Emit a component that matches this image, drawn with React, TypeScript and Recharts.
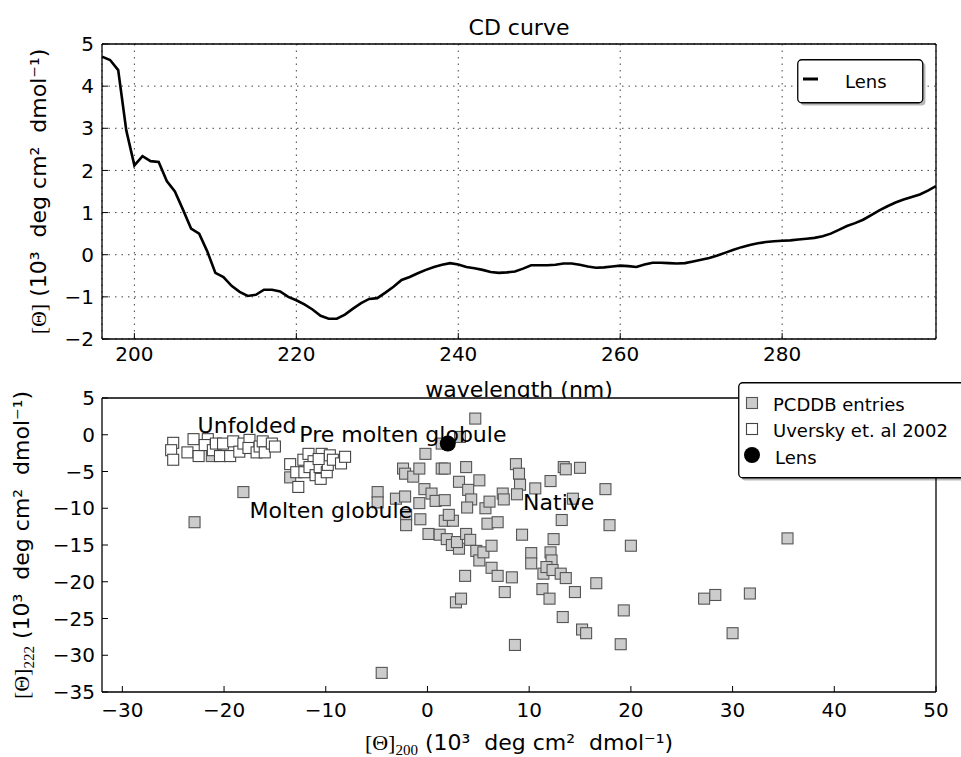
import React from 'react';
import { LineChart, Line, XAxis, YAxis, CartesianGrid, ScatterChart, Scatter, Legend } from 'recharts';

// ---------- CD curve data ----------
const wavelengths = [
  196, 197, 198, 199, 200, 201, 202, 203, 204, 205, 206, 207, 208, 209, 210, 211, 212, 213, 214, 215,
  216, 217, 218, 219, 220, 221, 222, 223, 224, 225, 226, 227, 228, 229, 230, 231, 232, 233, 234, 235,
  236, 237, 238, 239, 240, 241, 242, 243, 244, 245, 246, 247, 248, 249, 250, 251, 252, 253, 254, 255,
  256, 257, 258, 259, 260, 261, 262, 263, 264, 265, 266, 267, 268, 269, 270, 271, 272, 273, 274, 275,
  276, 277, 278, 279, 280, 281, 282, 283, 284, 285, 286, 287, 288, 289, 290, 291, 292, 293, 294, 295,
  296, 297, 298, 299,
];
const cdValues = [
  4.7, 4.62, 4.38, 2.95, 2.12, 2.34, 2.22, 2.2, 1.75, 1.5, 1.07, 0.62, 0.5, 0.08, -0.43, -0.53, -0.74, -0.88, -0.98, -0.95,
  -0.83, -0.83, -0.87, -1.0, -1.08, -1.18, -1.3, -1.45, -1.52, -1.52, -1.42, -1.28, -1.15, -1.05, -1.03, -0.9, -0.76, -0.6, -0.53, -0.44,
  -0.36, -0.29, -0.24, -0.2, -0.23, -0.29, -0.32, -0.36, -0.41, -0.43, -0.42, -0.4, -0.33, -0.25, -0.25, -0.25, -0.24, -0.21, -0.21, -0.24,
  -0.28, -0.31, -0.3, -0.28, -0.26, -0.27, -0.29, -0.23, -0.19, -0.19, -0.2, -0.21, -0.2, -0.16, -0.12, -0.08, -0.02, 0.05, 0.12, 0.18,
  0.23, 0.27, 0.3, 0.32, 0.33, 0.34, 0.36, 0.38, 0.4, 0.44, 0.5, 0.59, 0.68, 0.75, 0.83, 0.94, 1.05, 1.15, 1.24, 1.31,
  1.37, 1.43, 1.52, 1.63,
];
const cdXTicks = [200, 220, 240, 260, 280];
const cdYTicks = [-2, -1, 0, 1, 2, 3, 4, 5];

// ---------- Scatter data ----------
const pcddbPoints: [number, number][] = [
  [-22.9, -11.9], [-18.1, -7.8], [-21.2, -2.9], [-13.5, -5.8], [-4.5, -32.4],
  [-4.9, -7.8], [-4.9, -9.2], [-3.1, -8.7], [-2.2, -8.4], [-2.4, -4.6], [-2.2, -5.3], [-1.4, -5.7],
  [-0.8, -4.6], [-0.2, -2.6], [-0.3, -7.4], [-0.8, -9.3], [-2.1, -10.9], [-2.1, -12.3], [-0.7, -11.5],
  [0.1, -13.5], [1.2, -13.6], [1.9, -14.2], [2.4, -15.0], [3.1, -15.5], [2.9, -14.6], [3.7, -19.2],
  [2.8, -22.8], [3.3, -22.3], [1.4, -4.6], [1.7, -4.6], [3.8, -4.4], [3.1, -6.4], [4.0, -7.5],
  [4.3, -8.8], [3.9, -9.9], [0.4, -8.0], [0.8, -9.0], [1.7, -8.9], [1.7, -11.7], [2.5, -11.7],
  [2.1, -10.9], [3.8, -13.5], [4.2, -14.3], [4.7, 2.2], [1.4, -1.2], [3.2, -0.3],
  [5.1, -6.2], [4.8, -15.8], [5.1, -17.1], [5.5, -16.0], [6.3, -15.1], [6.3, -18.1], [6.9, -19.2],
  [8.3, -19.4], [7.6, -21.4], [8.6, -28.6], [5.9, -12.1], [6.9, -11.9], [5.7, -10.0], [6.1, -9.1],
  [7.4, -8.0], [7.5, -8.8], [8.7, -4.0], [9.0, -5.3], [9.1, -6.8], [8.8, -8.1], [10.6, -7.3],
  [12.1, -6.3], [13.4, -4.4], [13.6, -4.7], [15.0, -4.5], [17.5, -7.4], [14.3, -8.7], [13.2, -11.6],
  [17.9, -12.3], [9.3, -13.6], [12.4, -14.2], [20.0, -15.1], [10.2, -16.1], [10.2, -17.5], [12.1, -16.0],
  [12.2, -17.1], [11.4, -18.9], [11.7, -18.0], [12.3, -18.4], [13.1, -18.9], [13.6, -19.5], [11.3, -21.0],
  [12.0, -22.3], [14.5, -21.4], [16.6, -20.2], [13.3, -24.8], [15.2, -26.5], [15.6, -27.0], [19.3, -23.9],
  [19.0, -28.5], [35.4, -14.1], [27.2, -22.3], [28.3, -21.8], [31.7, -21.6], [30.0, -27.0],
];
const uverskyPoints: [number, number][] = [
  [-25.0, -1.1], [-25.2, -2.1], [-25.0, -3.4], [-23.6, -2.4], [-23.0, -0.6], [-22.5, -2.9], [-21.6, -0.6],
  [-21.9, -1.4], [-21.1, -2.1], [-20.8, -1.2], [-20.4, -2.9], [-20.1, -1.2], [-19.4, -2.9], [-19.1, -0.9],
  [-18.5, -2.3], [-18.1, -1.2], [-17.5, -0.7], [-17.6, -1.8], [-16.8, -2.4], [-16.5, -1.6], [-16.2, -0.9],
  [-16.0, -2.4], [-15.3, -1.2], [-15.0, -1.6],
  [-13.5, -4.0], [-12.7, -7.1], [-12.9, -5.1], [-12.2, -3.4], [-12.1, -5.1], [-11.7, -2.6], [-11.2, -3.6],
  [-11.6, -4.4], [-11.0, -5.5], [-10.6, -4.4], [-10.4, -2.6], [-10.5, -6.0], [-9.9, -5.1], [-9.8, -4.1],
  [-9.6, -2.8], [-9.3, -3.4], [-8.5, -3.9], [-8.1, -3.0], [-10.7, -3.3],
];
const lensPoints: [number, number][] = [[2.0, -1.2]];
const annotationLabels = ['Unfolded', 'Pre molten globule', 'Molten globule', 'Native'];
const annotationPos: [number, number][] = [[-22.6, 0.3], [-12.6, -0.95], [-17.5, -11.3], [9.4, -10.2]];
const mapXTicks = [-30, -20, -10, 0, 10, 20, 30, 40, 50];
const mapYTicks = [-35, -30, -25, -20, -15, -10, -5, 0, 5];

const cdData = wavelengths.map((w, i) => ({ w, v: cdValues[i] }));
const toXY = (pts: [number, number][]) => pts.map(([x, y]) => ({ x, y }));
const pcddbData = toXY(pcddbPoints);
const uverskyData = toXY(uverskyPoints);
const lensData = toXY(lensPoints);
const annotationData = annotationPos.map(([x, y], i) => ({ x, y, label: annotationLabels[i] }));

// ---------- styling helpers ----------
const SANS = 'DejaVu Sans';
const SERIF = 'Liberation Serif';
const fmt = (v: number) => (v < 0 ? '\u2212' + Math.abs(v) : String(v));
const tickStyle = { fontSize: 20, fill: '#000', fontFamily: SANS };
const axisLineStyle = { stroke: '#000', strokeWidth: 1.3 };
const tickLineStyle = { stroke: '#000', strokeWidth: 1 };
const UNITS = ' (10\u00b3\u00a0\u00a0deg cm\u00b2\u00a0\u00a0dmol\u207b\u00b9)';

const makeYLabel = (dx: number, sub: string | null) => (p: any) => {
  const vb = p.viewBox || { x: 101, y: 44, width: 1, height: 295 };
  const cx = vb.x + dx;
  const cy = vb.y + vb.height / 2;
  return (
    <text x={cx} y={cy} transform={`rotate(-90 ${cx} ${cy})`} textAnchor="middle" fontSize={22} fill="#000">
      <tspan fontFamily={SERIF}>[Θ]</tspan>
      {sub ? <tspan fontFamily={SERIF} fontSize={15} dy={5}>{sub}</tspan> : null}
      <tspan fontFamily={SANS} dy={sub ? -5 : 0}>{UNITS}</tspan>
    </text>
  );
};

const makeXLabel = (dy: number, content: 'wave' | 'theta') => (p: any) => {
  const vb = p.viewBox || { x: 102, y: 339, width: 834, height: 1 };
  const cx = vb.x + vb.width / 2;
  const y = vb.y + dy;
  if (content === 'wave') {
    return (
      <text x={cx} y={y} textAnchor="middle" fontSize={22} fontFamily={SANS} fill="#000">wavelength (nm)</text>
    );
  }
  return (
    <text x={cx} y={y} textAnchor="middle" fontSize={22} fill="#000">
      <tspan fontFamily={SERIF}>[Θ]</tspan>
      <tspan fontFamily={SERIF} fontSize={15} dy={5}>200</tspan>
      <tspan fontFamily={SANS} dy={-5}>{UNITS}</tspan>
    </text>
  );
};

const titleLabel = (p: any) => {
  const vb = p.viewBox || { x: 102, y: 43, width: 834, height: 1 };
  return (
    <text x={vb.x + vb.width / 2} y={vb.y + vb.height - 9} textAnchor="middle" fontSize={22} fontFamily={SANS} fill="#000">
      CD curve
    </text>
  );
};

const GraySquare = (p: any) => (
  <rect x={p.cx - 5.5} y={p.cy - 5.5} width={11} height={11} fill="#cccccc" stroke="#555" strokeWidth={1.1} />
);
const WhiteSquare = (p: any) => (
  <rect x={p.cx - 5.5} y={p.cy - 5.5} width={11} height={11} fill="#ffffff" stroke="#444" strokeWidth={1.1} />
);
const LensDot = (p: any) => <circle cx={p.cx} cy={p.cy} r={8} fill="#000" />;
const AnnotationText = (p: any) => (
  <text x={p.cx} y={p.cy} fontSize={22} fontFamily={SANS} fill="#000">{p.payload.label}</text>
);

const CdLegend = () => (
  <svg width={132} height={50} style={{ display: 'block', overflow: 'visible' }}>
    <rect x={3.5} y={3.5} width={125} height={43} rx={4} fill="#000" opacity={0.28} />
    <rect x={0.75} y={0.75} width={125} height={43} rx={4} fill="#fff" stroke="#000" strokeWidth={1.3} />
    <line x1={6} x2={21} y1={20} y2={20} stroke="#000" strokeWidth={3} />
    <text x={48} y={29} fontSize={18} fontFamily={SANS} fill="#000">Lens</text>
  </svg>
);

const MapLegend = () => (
  <svg width={240} height={102} style={{ display: 'block', overflow: 'visible' }}>
    <rect x={3.5} y={3.5} width={240} height={95} rx={4} fill="#000" opacity={0.28} />
    <rect x={0.75} y={0.75} width={240} height={95} rx={4} fill="#fff" stroke="#000" strokeWidth={1.3} />
    <rect x={8.5} y={15.5} width={11} height={11} fill="#cccccc" stroke="#555" strokeWidth={1.1} />
    <text x={35} y={29} fontSize={18} fontFamily={SANS} fill="#000">PCDDB entries</text>
    <rect x={8.5} y={41.5} width={11} height={11} fill="#fff" stroke="#444" strokeWidth={1.1} />
    <text x={35} y={55} fontSize={18} fontFamily={SANS} fill="#000">Uversky et. al 2002</text>
    <circle cx={14} cy={73} r={8} fill="#000" />
    <text x={37} y={82} fontSize={18} fontFamily={SANS} fill="#000">Lens</text>
  </svg>
);

export default function App() {
  return (
    <div
      style={{
        position: 'absolute', left: 0, top: 0, width: 961, height: 757,
        overflow: 'hidden', background: '#fff', fontFamily: SANS,
      }}
    >
      <div style={{ position: 'absolute', left: 0, top: 0 }}>
        <LineChart width={961} height={400} data={cdData} margin={{ top: 43, right: 24, bottom: 60, left: 101 }}>
          <CartesianGrid stroke="#444" strokeWidth={1} strokeDasharray="1.5 5" />
          <XAxis
            dataKey="w" type="number" domain={[196, 299]} allowDataOverflow ticks={cdXTicks}
            height={1} tick={tickStyle} tickFormatter={fmt} tickSize={-6} tickMargin={14}
            axisLine={axisLineStyle} tickLine={tickLineStyle}
            label={{ content: makeXLabel(58, 'wave') }}
          />
          <XAxis
            xAxisId="top" orientation="top" type="number" domain={[196, 299]} allowDataOverflow ticks={cdXTicks}
            height={1} tick={false} tickSize={-6} axisLine={axisLineStyle} tickLine={tickLineStyle}
            label={{ content: titleLabel }}
          />
          <YAxis
            type="number" domain={[-2, 5]} allowDataOverflow ticks={cdYTicks}
            width={1} tick={tickStyle} tickFormatter={fmt} tickSize={-6} tickMargin={14}
            axisLine={axisLineStyle} tickLine={tickLineStyle}
            label={{ content: makeYLabel(-55, null) }}
          />
          <YAxis
            yAxisId="right" orientation="right" type="number" domain={[-2, 5]} allowDataOverflow ticks={cdYTicks}
            width={1} tick={false} tickSize={-6} axisLine={axisLineStyle} tickLine={tickLineStyle}
          />
          <Line
            dataKey="v" name="Lens" type="linear" stroke="#000" strokeWidth={2.6}
            dot={false} isAnimationActive={false}
          />
          <Legend
            layout="vertical" align="center" verticalAlign="middle"
            wrapperStyle={{ left: 797, top: 59, width: 132, height: 50 }}
            content={() => <CdLegend />}
          />
        </LineChart>
      </div>
      <div style={{ position: 'absolute', left: 0, top: 360 }}>
        <ScatterChart width={961} height={397} margin={{ top: 37, right: 24, bottom: 64, left: 101 }}>
          <CartesianGrid horizontal={false} vertical={false} fill="#fff" />
          <XAxis
            dataKey="x" type="number" domain={[-32, 50]} allowDataOverflow ticks={mapXTicks}
            height={1} tick={tickStyle} tickFormatter={fmt} tickSize={-6} tickMargin={17}
            axisLine={axisLineStyle} tickLine={tickLineStyle}
            label={{ content: makeXLabel(58, 'theta') }}
          />
          <XAxis
            xAxisId="top" orientation="top" type="number" domain={[-32, 50]} allowDataOverflow ticks={mapXTicks}
            height={1} tick={false} tickSize={-6} axisLine={axisLineStyle} tickLine={tickLineStyle}
          />
          <YAxis
            dataKey="y" type="number" domain={[-35, 5]} allowDataOverflow ticks={mapYTicks}
            width={1} tick={tickStyle} tickFormatter={fmt} tickSize={-6} tickMargin={13}
            axisLine={axisLineStyle} tickLine={tickLineStyle}
            label={{ content: makeYLabel(-72, '222') }}
          />
          <YAxis
            yAxisId="right" orientation="right" type="number" domain={[-35, 5]} allowDataOverflow ticks={mapYTicks}
            width={1} tick={false} tickSize={-6} axisLine={axisLineStyle} tickLine={tickLineStyle}
          />
          <Scatter name="PCDDB entries" data={pcddbData} shape={GraySquare} isAnimationActive={false} />
          <Scatter name="Uversky et. al 2002" data={uverskyData} shape={WhiteSquare} isAnimationActive={false} />
          <Scatter name="annotations" data={annotationData} shape={AnnotationText} isAnimationActive={false} legendType="none" />
          <Scatter name="Lens" data={lensData} shape={LensDot} isAnimationActive={false} />
          <Legend
            layout="vertical" align="center" verticalAlign="middle"
            wrapperStyle={{ left: 738, top: 22, width: 245, height: 102 }}
            content={() => <MapLegend />}
          />
        </ScatterChart>
      </div>
    </div>
  );
}
